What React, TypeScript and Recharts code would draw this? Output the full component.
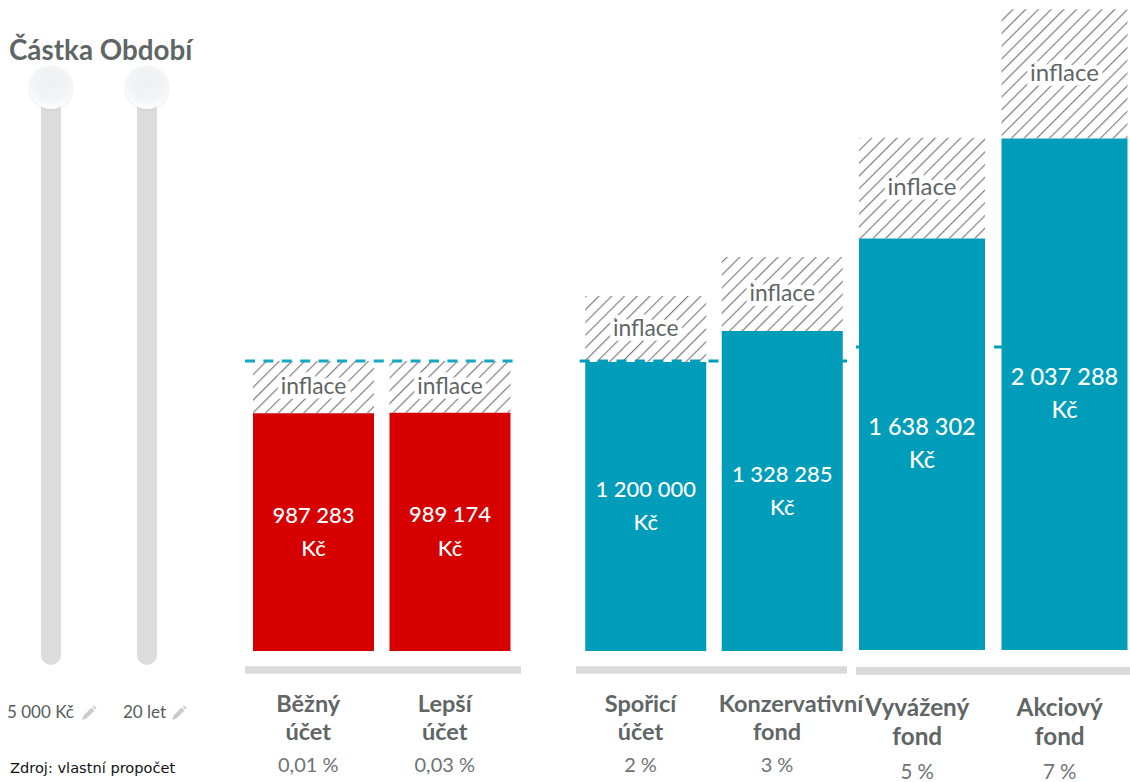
import { Bar, BarChart, LabelList, ReferenceLine, XAxis, YAxis } from 'recharts'

const groupANames = ['Běžný účet', 'Lepší účet']
const groupARates = ['0,01 %', '0,03 %']
const groupAValues = [987283, 989174]
const groupAInflation = [217000, 215000]

const groupBNames = ['Spořicí účet', 'Konzervativní fond']
const groupBRates = ['2 %', '3 %']
const groupBValues = [1200000, 1328285]
const groupBInflation = [274000, 308000]

const groupCNames = ['Vyvážený fond', 'Akciový fond']
const groupCRates = ['5 %', '7 %']
const groupCValues = [1638302, 2037288]
const groupCInflation = [402000, 514000]

const TARGET_LEFT = 1204000
const TARGET_RIGHT = 1207000

const RED = '#d60000'
const TEAL = '#009dba'
const GREY_TEXT = '#5f6665'
const AXIS_GREY = '#d9dad9'

const toRows = (names: string[], rates: string[], values: number[], inflation: number[]) =>
  names.map((name, i) => ({ name, rate: rates[i], value: values[i], inflation: inflation[i] }))

const formatValue = (v: number) => String(v).replace(/\B(?=(\d{3})+(?!\d))/g, ' ')

function ValueLabel(props: any) {
  const { x, y, width, height, value, big } = props
  const cx = x + width / 2
  const cy = y + height / 2
  return (
    <g fontFamily="Lato" fontSize={big ? 23.5 : 22} fontWeight={500} fill="#fff" textAnchor="middle">
      <text x={cx} y={cy - 9.5}>{formatValue(value)}</text>
      <text x={cx} y={cy + 24}>Kč</text>
    </g>
  )
}

function InflationLabel(props: any) {
  const { x, y, width, height, big } = props
  return (
    <text
      x={x + width / 2}
      y={y + height / 2 + 7}
      textAnchor="middle"
      fontFamily="Lato"
      fontSize={big ? 24 : 22.8}
      fill={GREY_TEXT}
      stroke="#fff"
      strokeWidth={9}
      paintOrder="stroke"
    >
      inflace
    </text>
  )
}

function CategoryTick(props: any) {
  const { x, y, payload, rows, lift } = props
  const [first, second] = String(payload.value).split(' ')
  const row = rows.find((r: any) => r.name === payload.value)
  // the long name runs past its column in the original
  const shift = first === 'Konzervativní' ? 14 : 0
  const nameSize = lift ? 24.3 : 23.5
  return (
    <g textAnchor="middle" fontFamily="Lato">
      <text x={x - 5 + shift} y={y + 34 + 3 * lift} fontSize={nameSize} fontWeight={700} fill={GREY_TEXT}>{first}</text>
      <text x={x - 5} y={y + 62 + 4 * lift} fontSize={nameSize} fontWeight={700} fill={GREY_TEXT}>{second}</text>
      <text x={x - 5} y={y + 94 + 6 * lift} fontSize={lift ? 20.5 : 20} fill="#6e7473">{row.rate}</text>
    </g>
  )
}

function Hatch() {
  return (
    <defs>
      <pattern id="hatch" width={9} height={9} patternUnits="userSpaceOnUse" patternTransform="rotate(45)">
        <line x1={0} y1={0} x2={0} y2={9} stroke="#7f7f7f" strokeWidth={2.4} />
      </pattern>
    </defs>
  )
}

interface PanelProps {
  rows: any[]
  left: number
  width: number
  marginRight?: number
  fill: string
  barSize: number
  domain: number[]
  padding: { left: number; right: number }
  target: number
  dash: string
  dashOffset: number
  axisWidth: number
  lift?: number
}

function Panel({ rows, left, width, marginRight = 0, fill, barSize, domain, padding, target, dash, dashOffset, axisWidth, lift = 0 }: PanelProps) {
  return (
    <div style={{ position: 'absolute', left, top: 0 }}>
      <BarChart width={width} height={782} data={rows} margin={{ top: 0, right: marginRight, bottom: 0, left: 0 }} barCategoryGap={0}>
        <Hatch />
        <YAxis hide domain={domain} type="number" />
        <XAxis
          dataKey="name"
          height={112 - lift}
          interval={0}
          padding={padding}
          tickLine={false}
          axisLine={{ stroke: AXIS_GREY, strokeWidth: axisWidth }}
          tick={<CategoryTick rows={rows} lift={lift} />}
        />
        <ReferenceLine
          y={target}
          stroke={fill === RED ? '#14a8c4' : TEAL}
          strokeWidth={3}
          strokeDasharray={dash}
          strokeDashoffset={dashOffset}
        />
        <Bar dataKey="value" stackId="a" fill={fill} barSize={barSize} isAnimationActive={false}>
          <LabelList dataKey="value" content={<ValueLabel big={lift > 0} />} />
        </Bar>
        <Bar dataKey="inflation" stackId="a" fill="url(#hatch)" barSize={barSize} isAnimationActive={false}>
          <LabelList dataKey="inflation" content={<InflationLabel big={lift > 0} />} />
        </Bar>
      </BarChart>
    </div>
  )
}

function Slider({ x }: { x: number }) {
  return (
    <>
      <div style={{ position: 'absolute', left: x - 10, top: 88, width: 20, height: 577, background: '#dcdcdc', borderRadius: 10 }} />
      <div
        style={{
          position: 'absolute', left: x - 21, top: 67, width: 42, height: 42, borderRadius: '50%',
          background: 'radial-gradient(circle at 50% 35%, #eef1f3 0%, #f2f4f5 55%, #ffffff 80%)',
          boxShadow: '0 0 3px rgba(150,150,150,0.35)',
        }}
      />
    </>
  )
}

function Pencil({ x, y }: { x: number; y: number }) {
  return (
    <svg style={{ position: 'absolute', left: x, top: y }} width={16} height={16} viewBox="0 0 16 16">
      <path d="M1 15 L2.5 10.5 L10.5 2.5 L13.5 5.5 L5.5 13.5 Z M11.5 1.5 L13 0.5 L15.5 3 L14.5 4.5 Z" fill="#cbcbcb" />
    </svg>
  )
}

const textStyle = { position: 'absolute', fontFamily: 'Lato', whiteSpace: 'nowrap' } as const

export default function App() {
  return (
    <div style={{ position: 'absolute', left: 0, top: 0, width: 1130, height: 782, overflow: 'hidden', background: '#fff' }}>
      <div style={{ ...textStyle, left: 9, top: 34, fontSize: 27.8, fontWeight: 700, color: GREY_TEXT, lineHeight: '32px' }}>
        Částka Období
      </div>
      <Slider x={51} />
      <Slider x={146.5} />
      <div style={{ ...textStyle, left: 7, top: 702, fontSize: 17, color: '#565b5a', lineHeight: '20px' }}>5 000 Kč</div>
      <Pencil x={81} y={705} />
      <div style={{ ...textStyle, left: 123, top: 702, fontSize: 17, color: '#565b5a', lineHeight: '20px' }}>20 let</div>
      <Pencil x={171} y={705} />
      <div style={{ ...textStyle, left: 10, top: 759, fontFamily: 'DejaVu Sans', fontSize: 14.6, color: '#111', lineHeight: '18px' }}>
        Zdroj: vlastní propočet
      </div>

      <Panel
        rows={toRows(groupANames, groupARates, groupAValues, groupAInflation)}
        left={245}
        width={276}
        fill={RED}
        barSize={121}
        domain={[-79000, 2703000]}
        padding={{ left: 0, right: 3 }}
        target={TARGET_LEFT}
        dash="10 8.4"
        dashOffset={0}
        axisWidth={7.5}
      />
      <Panel
        rows={toRows(groupBNames, groupBRates, groupBValues, groupBInflation)}
        left={575.5}
        width={295}
        marginRight={24}
        fill={TEAL}
        barSize={121}
        domain={[-79000, 2703000]}
        padding={{ left: 1.25, right: -3.25 }}
        target={TARGET_LEFT}
        dash="10 8.4"
        dashOffset={14.7}
        axisWidth={7.5}
      />
      <Panel
        rows={toRows(groupCNames, groupCRates, groupCValues, groupCInflation)}
        left={856}
        width={280}
        fill={TEAL}
        barSize={126}
        domain={[-83600, 2588600]}
        padding={{ left: -5, right: 0 }}
        target={TARGET_RIGHT}
        dash="8 12.43"
        dashOffset={5}
        axisWidth={8}
        lift={1}
      />
    </div>
  )
}
